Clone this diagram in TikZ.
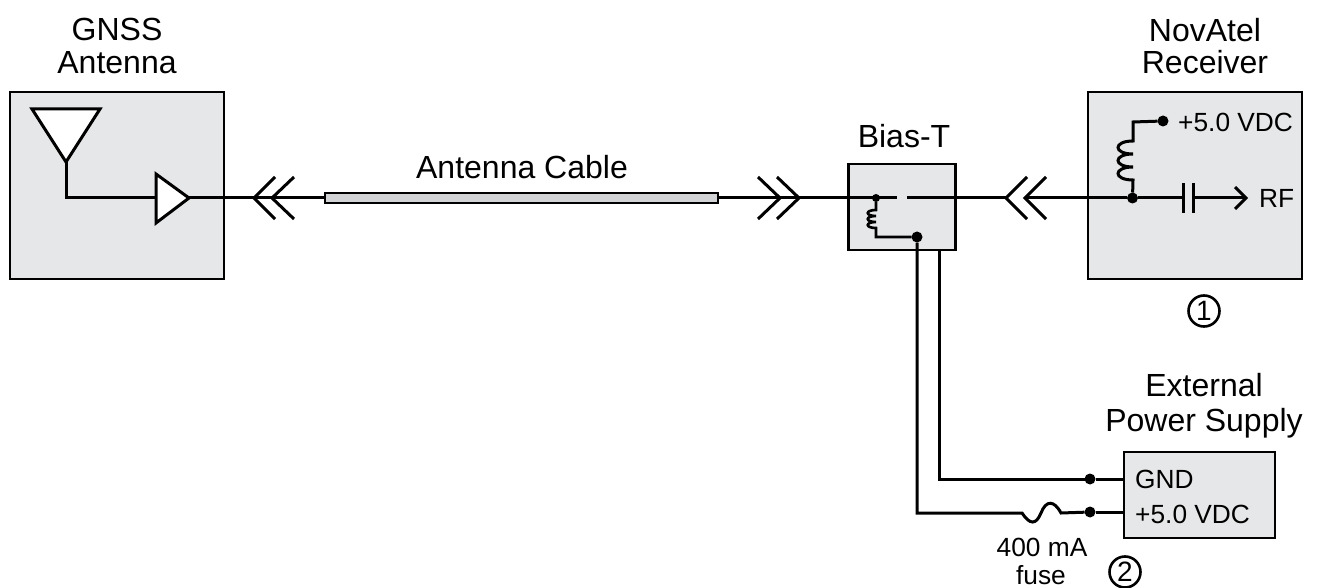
\documentclass[tikz,border=0pt]{standalone}
\usepackage{fontspec}
\setmainfont{Liberation Sans}
\newcommand{\lblfont}{\fontsize{32}{32}\selectfont}
\newcommand{\smfont}{\fontsize{26.3}{28}\selectfont}
\tikzset{
  wire/.style={line width=3pt,line cap=butt,line join=miter},
  box/.style={draw,line width=2.8pt,fill=boxgray,inner sep=0pt,outer sep=0pt},
  dot/.style={circle,fill=black,inner sep=0pt,outer sep=0pt,minimum size=#1},
  title/.style={inner sep=0pt,align=center,font=\lblfont},
  small/.style={inner sep=0pt,font=\smfont},
  num/.style={circle,draw,line width=2.6pt,inner sep=0pt,minimum size=31pt,font=\fontsize{28}{28}\selectfont},
  tri/.style={wire,fill=white,line join=miter},
  chev/.style={wire}
}
\definecolor{boxgray}{HTML}{E6E7E8}
\definecolor{cablegray}{HTML}{D1D3D4}
\begin{document}
\begin{tikzpicture}[x=1pt,y=-1pt]
\useasboundingbox (0,0) rectangle (1317,588);
% boxes
\node[box,minimum width=214pt,minimum height=187pt] (ant) at (117,185.5) {};
\node[box,minimum width=107pt,minimum height=86pt] (bias) at (902,207) {};
\node[box,minimum width=214pt,minimum height=187pt] (rcv) at (1195,185.5) {};
\node[box,minimum width=151pt,minimum height=86pt] (psu) at (1199.5,495) {};
% titles
\node[title] (t1) at (117,46) {GNSS\\[0.5pt]Antenna};
\node[title] (t2) at (1205,46) {NovAtel\\[0.5pt]Receiver};
\node[title] (t3) at (904,136) {Bias-T};
\node[title] (t4) at (522,167) {Antenna Cable};
\node[title] (t5) at (1204,406) {External\\[3pt]Power Supply};
% named points
\coordinate (aA) at (32,109);\coordinate (aB) at (100,109);\coordinate (aT) at (66,162);
\coordinate (aC) at (66,198);
\coordinate (ampA) at (156,174);\coordinate (ampB) at (156,223);\coordinate (ampT) at (189,198);\coordinate (ampI) at (156,198);
\coordinate (c1) at (272,198);
\coordinate (c2) at (799,198);
\coordinate (c3) at (1025,198);
\node[draw,line width=2.6pt,fill=cablegray,inner sep=0pt,outer sep=0pt,minimum width=393pt,minimum height=10pt] (cable) at (521.5,198) {};
% dots
\node[dot=8pt] (bd1) at (876,198) {};
\node[dot=11pt] (bd2) at (917,237) {};
\node[dot=11pt] (rd1) at (1132.5,198) {};
\node[dot=11pt] (rd2) at (1163,121) {};
\node[dot=11pt] (pd1) at (1090,479) {};
\node[dot=11pt] (pd2) at (1090,512) {};
% antenna
\draw[wire] (aT) -- (aC) -- (ampI);
\draw[tri] (aA) -- (aB) -- (aT) -- cycle;
\draw[tri] (ampA) -- (ampB) -- (ampT) -- cycle;
% coax
\draw[wire] (ampT) -- (c1);
\draw[wire] (c1) -- (cable.west);
\draw[chev] (275,177) -- (254,198) -- (275,219);
\draw[chev] (294,177) -- (272,198) -- (294,219);
\draw[wire] (cable.east) -- (c2);
\draw[chev] (758,177) -- (780,198) -- (758,219);
\draw[chev] (777,177) -- (799,198) -- (777,219);
\coordinate (gapA) at (897,198);\coordinate (gapB) at (907,198);
\draw[wire] (c2) -- (gapA);
\coordinate (c3a) at (1006,198);
\draw[wire] (gapB) -- (c3a);
\draw[chev] (1027,177) -- (1006,198) -- (1027,219);
\draw[chev] (1046,177) -- (1025,198) -- (1046,219);
% receiver
\coordinate (capL) at (1183,198);\coordinate (capR) at (1193,198);\coordinate (rf) at (1246,198);
\draw[wire] (c3) -- (rd1);
\draw[wire] (rd1) -- (capL);
\draw[wire] (capR) -- (rf);
\draw[wire] (1183,183) -- (1183,213);
\draw[wire] (1193,183) -- (1193,213);
\draw[wire] (1235,187) -- (rf) -- (1235,209);
\draw[wire] (rd1) -- (1133,180)
  .. controls (1113,180) and (1113,167) .. (1133,167)
  .. controls (1113,167) and (1113,154) .. (1133,154)
  .. controls (1113,154) and (1113,141) .. (1133,141)
  -- (1133,122) -- (rd2);
\node[small,anchor=west] (l1) at (1178,122) {+5.0 VDC};
\node[small,anchor=west] (l2) at (1259,198) {RF};
\node[num] (n1) at (1204,311) {1};
% bias inductor
\draw[wire,line width=2.6pt] (bd1) -- (876,210)
  .. controls (865,210) and (865,216) .. (876,216)
  .. controls (865,216) and (865,222) .. (876,222)
  .. controls (865,222) and (865,228) .. (876,228)
  -- (876,237) -- (bd2);
% supply
\coordinate (g1) at (939,250);\coordinate (g2) at (939,479);
\coordinate (p2) at (917,513);\coordinate (f1) at (1022,513);\coordinate (f2) at (1061,513);
\draw[wire] (g1) -- (g2) -- (pd1);
\draw[wire] (pd1) -- (1124,479);
\draw[wire] (bd2) -- (p2) -- (f1)
  .. controls (1030,525) and (1036,525) .. (1041,513)
  .. controls (1046,500) and (1054,500) .. (f2)
  -- (pd2);
\draw[wire] (pd2) -- (1124,512);
\node[small,anchor=west] (l3) at (1135,479) {GND};
\node[small,anchor=west] (l4) at (1135,514) {+5.0 VDC};
\node[small] (l5) at (1042,547) {400 mA};
\node[small] (l6) at (1041,575) {fuse};
\node[num] (n2) at (1125,572) {2};
\end{tikzpicture}
\end{document}
